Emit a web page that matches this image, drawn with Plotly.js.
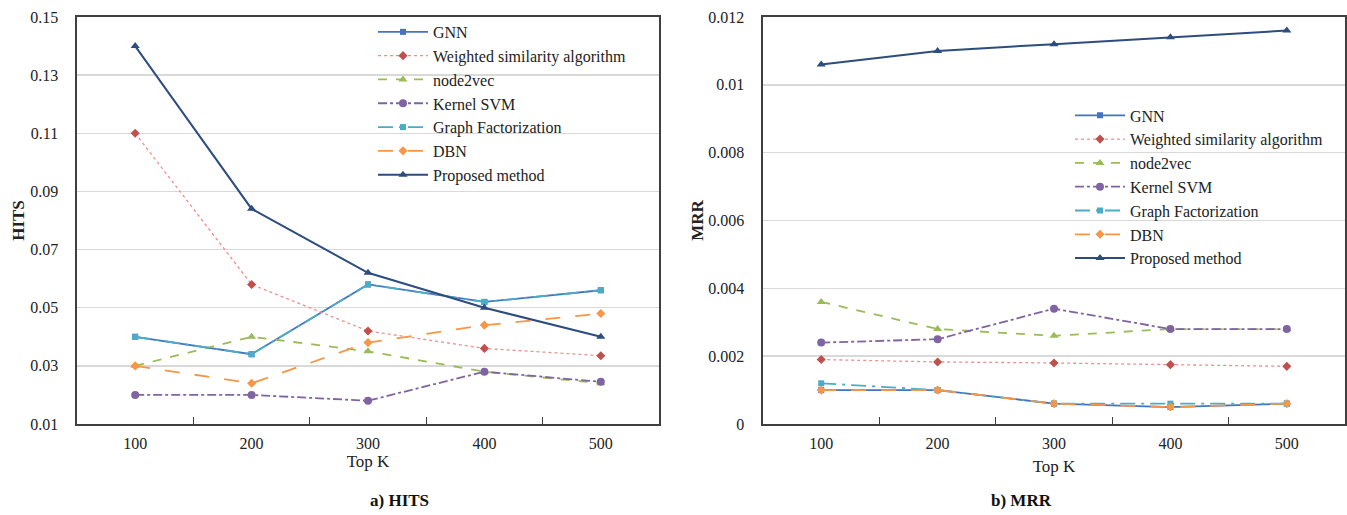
<!DOCTYPE html>
<html>
<head>
<meta charset="utf-8">
<script src="https://cdn.plot.ly/plotly-3.0.1.min.js"></script>
<style>html,body{margin:0;padding:0;background:#fff;}#chart{width:1347px;height:515px;}</style>
</head>
<body>
<div id="chart"></div>
<script>
// ---- data ----
const topK = ['100', '200', '300', '400', '500'];
const seriesNames = ['GNN', 'Weighted similarity algorithm', 'node2vec', 'Kernel SVM', 'Graph Factorization', 'DBN', 'Proposed method'];

// a) HITS
const hitsGNN      = [0.040, 0.034, 0.058, 0.052, 0.056];
const hitsWSA      = [0.110, 0.058, 0.042, 0.036, 0.0335];
const hitsNode2vec = [0.030, 0.040, 0.035, 0.028, 0.024];
const hitsKSVM     = [0.020, 0.020, 0.018, 0.028, 0.0245];
const hitsGF       = [0.040, 0.034, 0.058, 0.052, 0.056];
const hitsDBN      = [0.030, 0.024, 0.038, 0.044, 0.048];
const hitsProposed = [0.140, 0.084, 0.062, 0.050, 0.040];

// b) MRR
const mrrGNN      = [0.0010, 0.0010, 0.0006, 0.0005, 0.0006];
const mrrWSA      = [0.0019, 0.00183, 0.0018, 0.00175, 0.0017];
const mrrNode2vec = [0.0036, 0.0028, 0.0026, 0.0028, 0.0028];
const mrrKSVM     = [0.0024, 0.0025, 0.0034, 0.0028, 0.0028];
const mrrGF       = [0.0012, 0.0010, 0.0006, 0.0006, 0.0006];
const mrrDBN      = [0.0010, 0.0010, 0.0006, 0.0005, 0.0006];
const mrrProposed = [0.0106, 0.0110, 0.0112, 0.0114, 0.0116];

const hitsSeries = [hitsGNN, hitsWSA, hitsNode2vec, hitsKSVM, hitsGF, hitsDBN, hitsProposed];
const mrrSeries  = [mrrGNN, mrrWSA, mrrNode2vec, mrrKSVM, mrrGF, mrrDBN, mrrProposed];

// ---- styles ----
const styles = [
  {line: {color: '#4472C4', width: 1.8, dash: 'solid'},       marker: {symbol: 'square',       color: '#4472C4', size: 6}},
  {line: {color: '#EE8F8C', width: 1.3, dash: 'dot'},         marker: {symbol: 'diamond',      color: '#C0504D', size: 7}},
  {line: {color: '#9BBB59', width: 1.8, dash: 'dash'},        marker: {symbol: 'triangle-up',  color: '#9BBB59', size: 8}},
  {line: {color: '#8064A2', width: 1.8, dash: 'dashdot'},     marker: {symbol: 'circle',       color: '#8064A2', size: 8}},
  {line: {color: '#4BACC6', width: 1.8, dash: 'longdashdot'}, marker: {symbol: 'square',       color: '#4BACC6', size: 6}},
  {line: {color: '#F79646', width: 1.8, dash: 'longdash'},    marker: {symbol: 'diamond',      color: '#F79646', size: 7}},
  {line: {color: '#2C4D7E', width: 2.0, dash: 'solid'},       marker: {symbol: 'triangle-up',  color: '#2C4D7E', size: 8}}
];

const traces = [];
seriesNames.forEach((name, i) => {
  traces.push(Object.assign({
    type: 'scatter', mode: 'lines+markers', name: name,
    x: topK, y: hitsSeries[i], xaxis: 'x', yaxis: 'y', legend: 'legend'
  }, styles[i]));
});
seriesNames.forEach((name, i) => {
  traces.push(Object.assign({
    type: 'scatter', mode: 'lines+markers', name: name,
    x: topK, y: mrrSeries[i], xaxis: 'x2', yaxis: 'y2', legend: 'legend2'
  }, styles[i]));
});

const serif = 'Liberation Serif, Times New Roman, serif';
const W = 1347;
const axisLine = '#3f3f3f';

function xAxis(domain, anchor, standoff) {
  return {
    domain: domain, anchor: anchor, type: 'category', range: [-0.5, 4.5],
    tickson: 'boundaries', ticks: 'inside', ticklen: 7, tickwidth: 1.3, tickcolor: axisLine,
    showline: true, linecolor: axisLine, linewidth: 1.6, mirror: true,
    showgrid: false, zeroline: false, fixedrange: true,
    tickfont: {family: serif, size: 16, color: '#222'}, ticklabelstandoff: 4,
    title: {text: 'Top K', font: {family: serif, size: 17, color: '#222'}, standoff: standoff}
  };
}
function yAxis(domain, anchor, range, tick0, dtick, title, standoff) {
  return {
    domain: domain, anchor: anchor, range: range, tick0: tick0, dtick: dtick,
    showline: true, linecolor: axisLine, linewidth: 1.6, mirror: true,
    ticks: '', showgrid: true, gridcolor: '#d9d9d9', gridwidth: 1.5, zeroline: false,
    tickfont: {family: serif, size: 16, color: '#222'}, ticklabelstandoff: 14,
    title: {text: title, font: {family: serif, size: 17, color: '#222', weight: 'bold'}, standoff: standoff}
  };
}

const layout = {
  width: 1347, height: 515,
  margin: {l: 0, r: 0, t: 17, b: 91},
  paper_bgcolor: '#fff', plot_bgcolor: '#fff',
  showlegend: true,
  xaxis: xAxis([77 / W, 659 / W], 'y', 0),
  yaxis: yAxis([0, 1], 'x', [0.01, 0.15], 0.01, 0.02, 'HITS', 1),
  xaxis2: xAxis([763 / W, 1345 / W], 'y2', 9),
  yaxis2: yAxis([0, 1], 'x2', [0, 0.012], 0, 0.002, 'MRR', 0),
  legend: {
    x: 373 / W, y: 1.005, xanchor: 'left', yanchor: 'top', itemwidth: 50,
    bgcolor: 'rgba(0,0,0,0)', borderwidth: 0,
    font: {family: serif, size: 16, color: '#222'}, tracegroupgap: 0
  },
  legend2: {
    x: 1070 / W, y: 0.80, xanchor: 'left', yanchor: 'top', itemwidth: 50,
    bgcolor: 'rgba(0,0,0,0)', borderwidth: 0,
    font: {family: serif, size: 16, color: '#222'}, tracegroupgap: 0
  },
  annotations: [
    {text: '<b>a) HITS</b>', xref: 'paper', yref: 'paper', x: (77 + 659) / 2 / W, y: -0.189, yanchor: 'middle', showarrow: false,
     font: {family: serif, size: 17, color: '#111'}},
    {text: '<b>b) MRR</b>', xref: 'paper', yref: 'paper', x: (763 + 1345) / 2 / W, y: -0.189, yanchor: 'middle', showarrow: false,
     font: {family: serif, size: 17, color: '#111'}}
  ]
};

Plotly.newPlot('chart', traces, layout, {displayModeBar: false, staticPlot: true});
</script>
</body>
</html>
